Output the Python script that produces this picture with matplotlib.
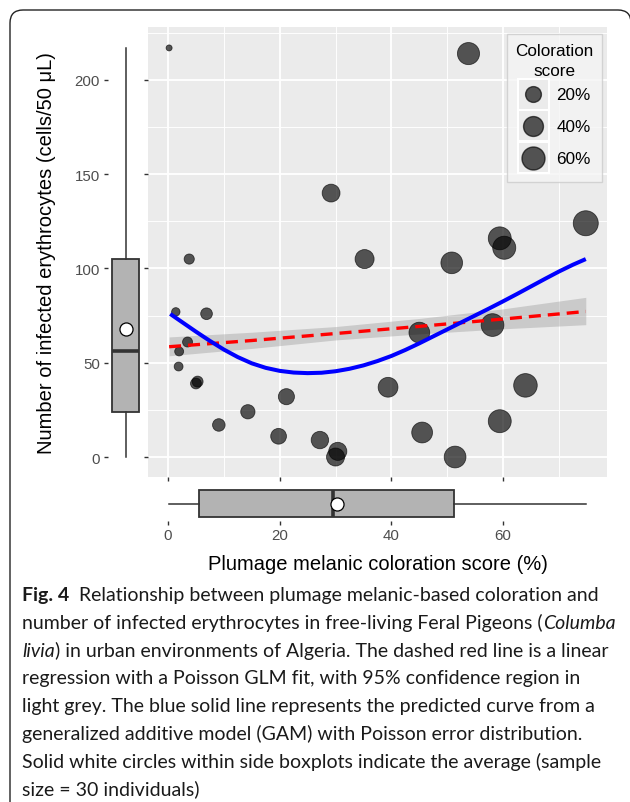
import matplotlib
matplotlib.use("Agg")
import matplotlib.pyplot as plt
import numpy as np
from matplotlib.lines import Line2D
from matplotlib.patches import Rectangle, PathPatch
from matplotlib.path import Path
from matplotlib.legend_handler import HandlerBase
from matplotlib.transforms import IdentityTransform

plt.rcParams['font.family'] = ['Liberation Sans', 'DejaVu Sans']

W, H = 630, 803  # output size in pixels (dpi 100)

# one point per bird: melanic coloration score (%) and infected erythrocytes
coloration = [0.2, 53.8, 29.2, 74.8, 59.4, 60.2, 3.8, 35.2, 50.8, 1.4,
              6.9, 3.5, 2.0, 1.9, 5.0, 5.3, 45.0, 58.1, 64.0, 39.4,
              21.2, 14.3, 9.1, 19.8, 27.2, 30.4, 30.0, 45.5, 59.4, 51.4]
infected = [217, 214, 140, 124, 116, 111, 105, 105, 103, 77,
            76, 61, 56, 48, 39, 40, 66, 70, 38, 37,
            32, 24, 17, 11, 9, 3, 0, 13, 19, 0]

# GAM prediction (blue)
gam_x = [0.4, 2.5, 5, 7.5, 10, 12.5, 15, 17.5, 20, 22.5, 25, 27.5, 30, 32.5, 35,
         37.5, 40, 42.5, 45, 47.5, 50, 52.5, 55, 57.5, 60, 62.5, 65, 67.5, 70,
         72.5, 74.8]
gam_y = [75.9, 71.6, 66.5, 61.6, 57.0, 53.0, 49.7, 47.3, 45.7, 44.8, 44.5, 44.7,
         45.5, 46.8, 48.6, 50.9, 53.6, 56.8, 60.3, 64.0, 67.7, 71.4, 75.1, 78.8,
         82.6, 86.5, 90.5, 94.5, 98.4, 102.0, 105.0]

# Poisson GLM fit (red dashed) and its 95% band
glm_x = [0.2, 15, 30, 45, 60, 74.8]
glm_y = [58.5, 61.8, 65.5, 69.3, 73.2, 77.2]
glm_lo = [53.7, 57.6, 62.1, 65.3, 68.0, 70.2]
glm_hi = [63.7, 66.2, 69.2, 73.5, 78.6, 84.7]

# marginal boxplot summaries
y_box = dict(whislo=0, q1=23.7, med=56.1, q3=105, whishi=217, mean=67.9)
x_box = dict(whislo=0.2, q1=5.6, med=29.5, q3=51.2, whishi=74.8, mean=30.3)

legend_scores = [20, 40, 60]
legend_labels = ["20%", "40%", "60%"]

x_ticks = [0, 20, 40, 60]
y_ticks = [0, 50, 100, 150, 200]
XLIM = (-3.58, 78.6)
YLIM = (-10.6, 228.1)

caption = [
    [("Fig. 4", "bold"), ("Relationship between plumage melanic-based coloration and", "normal")],
    [("number of infected erythrocytes in free-living Feral Pigeons (", "normal"), ("Columba", "italic")],
    [("livia", "italic"), (") in urban environments of Algeria. The dashed red line is a linear", "normal")],
    [("regression with a Poisson GLM fit, with 95% confidence region in", "normal")],
    [("light grey. The blue solid line represents the predicted curve from a", "normal")],
    [("generalized additive model (GAM) with Poisson error distribution.", "normal")],
    [("Solid white circles within side boxplots indicate the average (sample", "normal")],
    [("size = 30 individuals)", "normal")],
]


def diam_px(v):
    # size scale: area-like mapping between the smallest and largest score
    t = np.clip((np.asarray(v, dtype=float) - 0.2) / 74.6, 0, 1)
    return 6 + 19 * np.sqrt(t)


class KeyHandler(HandlerBase):
    """legend key with a grey square behind the dot, like ggplot"""
    def create_artists(self, legend, orig_handle, xdescent, ydescent,
                       width, height, fontsize, trans):
        bg = Rectangle((-xdescent, -ydescent), width, height, facecolor='#EBEBEB',
                       edgecolor='white', lw=1.5, transform=trans)
        dot = Line2D([-xdescent + width / 2], [-ydescent + height / 2], linestyle='none',
                     marker='o', markersize=orig_handle.get_markersize(),
                     markerfacecolor='black', markeredgecolor='black',
                     alpha=orig_handle.get_alpha(), transform=trans)
        return [bg, dot]


def add_ax(fig, x0, y0, x1, y1):
    return fig.add_axes([x0 / W, 1 - y1 / H, (x1 - x0) / W, (y1 - y0) / H])


fig = plt.figure(figsize=(W / 100, H / 100), dpi=100)

# main panel
ax = add_ax(fig, 148, 28, 607, 478)
ax.set_facecolor('#EBEBEB')
ax.set_xlim(*XLIM)
ax.set_ylim(*YLIM)
ax.set_xticks(x_ticks)
ax.set_xticks([10, 30, 50, 70], minor=True)
ax.set_yticks(y_ticks)
ax.set_yticks([25, 75, 125, 175, 225], minor=True)
ax.grid(which='major', color='white', lw=1.3)
ax.grid(which='minor', color='white', lw=0.65)
ax.set_axisbelow(True)
ax.tick_params(which='major', length=2.9, width=1.0, color='#333333',
               labelbottom=False, labelleft=False)
ax.tick_params(which='minor', length=0)
for s in ax.spines.values():
    s.set_visible(False)

ax.fill_between(glm_x, glm_lo, glm_hi, color='#999999', alpha=0.4, lw=0, zorder=2)
ax.scatter(coloration, infected, s=(diam_px(coloration) * 0.72) ** 2,
           facecolor='black', edgecolor='black', lw=0.6, alpha=0.65, zorder=3)
ax.plot(glm_x, glm_y, color='#FF0000', lw=2.4, linestyle=(0, (3.6, 2.1)), zorder=4)
ax.plot(gam_x, gam_y, color='#0000FF', lw=2.9, solid_capstyle='butt',
        solid_joinstyle='round', zorder=5)

handles = [Line2D([], [], linestyle='none', marker='o', markersize=diam_px(v) * 0.72,
                  alpha=0.65) for v in legend_scores]
leg = ax.legend(handles, legend_labels, title='Coloration\nscore', loc='upper right',
                bbox_to_anchor=((602 - 148) / 459, (478 - 35) / 450), borderaxespad=0,
                handler_map={Line2D: KeyHandler()}, fontsize=12.3, title_fontsize=12.3,
                handlelength=1.8, handleheight=2.4, handletextpad=0.45,
                labelspacing=0.05, borderpad=0.5, fancybox=False, alignment='center')
leg.get_frame().set_facecolor('#F5F5F5')
leg.get_frame().set_edgecolor('#CCCCCC')
leg.get_frame().set_linewidth(1.0)
leg.get_title().set_multialignment('center')
leg.get_title().set_linespacing(1.45)

box_kw = dict(showmeans=True, showcaps=False, showfliers=False, patch_artist=True,
              manage_ticks=False,
              boxprops=dict(facecolor='#B3B3B3', edgecolor='#333333', lw=1.3),
              medianprops=dict(color='#333333', lw=2.6),
              whiskerprops=dict(color='#333333', lw=1.1),
              meanprops=dict(marker='o', markerfacecolor='white',
                             markeredgecolor='black', markersize=9.4, markeredgewidth=0.9))

# left marginal boxplot
axl = add_ax(fig, 108, 28, 143, 478)
axl.bxp([y_box], positions=[0], widths=1.525, **box_kw)
axl.set_xlim(-1, 1)
axl.set_ylim(*YLIM)
axl.set_yticks(y_ticks)
axl.set_xticks([])
axl.tick_params(axis='y', length=2.9, width=1.0, color='#333333', pad=2.9,
                labelsize=10.8, labelcolor='#4D4D4D')
axl.patch.set_visible(False)
for s in axl.spines.values():
    s.set_visible(False)

# bottom marginal boxplot
axb = add_ax(fig, 148, 487, 607, 522)
axb.bxp([x_box], positions=[0], widths=1.486, orientation='horizontal', **box_kw)
axb.set_ylim(-1, 1)
axb.set_xlim(*XLIM)
axb.set_xticks(x_ticks)
axb.set_yticks([])
axb.tick_params(axis='x', length=2.9, width=1.0, color='#333333', pad=2.0,
                labelsize=10.8, labelcolor='#4D4D4D')
axb.patch.set_visible(False)
for s in axb.spines.values():
    s.set_visible(False)

fig.text(377.5 / W, 1 - 564 / H, "Plumage melanic coloration score (%)",
         ha='center', va='center', fontsize=14.5)
fig.text(47 / W, 1 - 253 / H, "Number of infected erythrocytes (cells/50 \u03bcL)",
         ha='center', va='center', rotation=90, fontsize=14.5)

# caption, placed line by line
renderer = fig.canvas.get_renderer()
for i, line in enumerate(caption):
    base = 601 + 27.8 * i
    x = 22
    for text, style in line:
        kw = {}
        if style == 'bold':
            kw = dict(fontweight='bold')
        elif style == 'italic':
            kw = dict(fontstyle='italic')
        t = fig.text(x / W, 1 - base / H, text, ha='left', va='baseline',
                     fontsize=14.0, family=['Lato', 'DejaVu Sans'], color='#1a1a1a', **kw)
        x += t.get_window_extent(renderer).width
        if style == 'bold':
            x += 10

# page frame: left edge and top edge with rounded corners (display pixels)
top = H - 11
frame_path = Path([(10, -5), (10, top - 13), (10, top), (23, top),
                   (618, top), (631, top), (631, top - 13)],
                  [Path.MOVETO, Path.LINETO, Path.CURVE3, Path.CURVE3,
                   Path.LINETO, Path.CURVE3, Path.CURVE3])
fig.add_artist(PathPatch(frame_path, transform=IdentityTransform(), facecolor='none',
                         edgecolor='#222222', lw=1.0))

fig.savefig("out.png", dpi=100)
plt.close(fig)
